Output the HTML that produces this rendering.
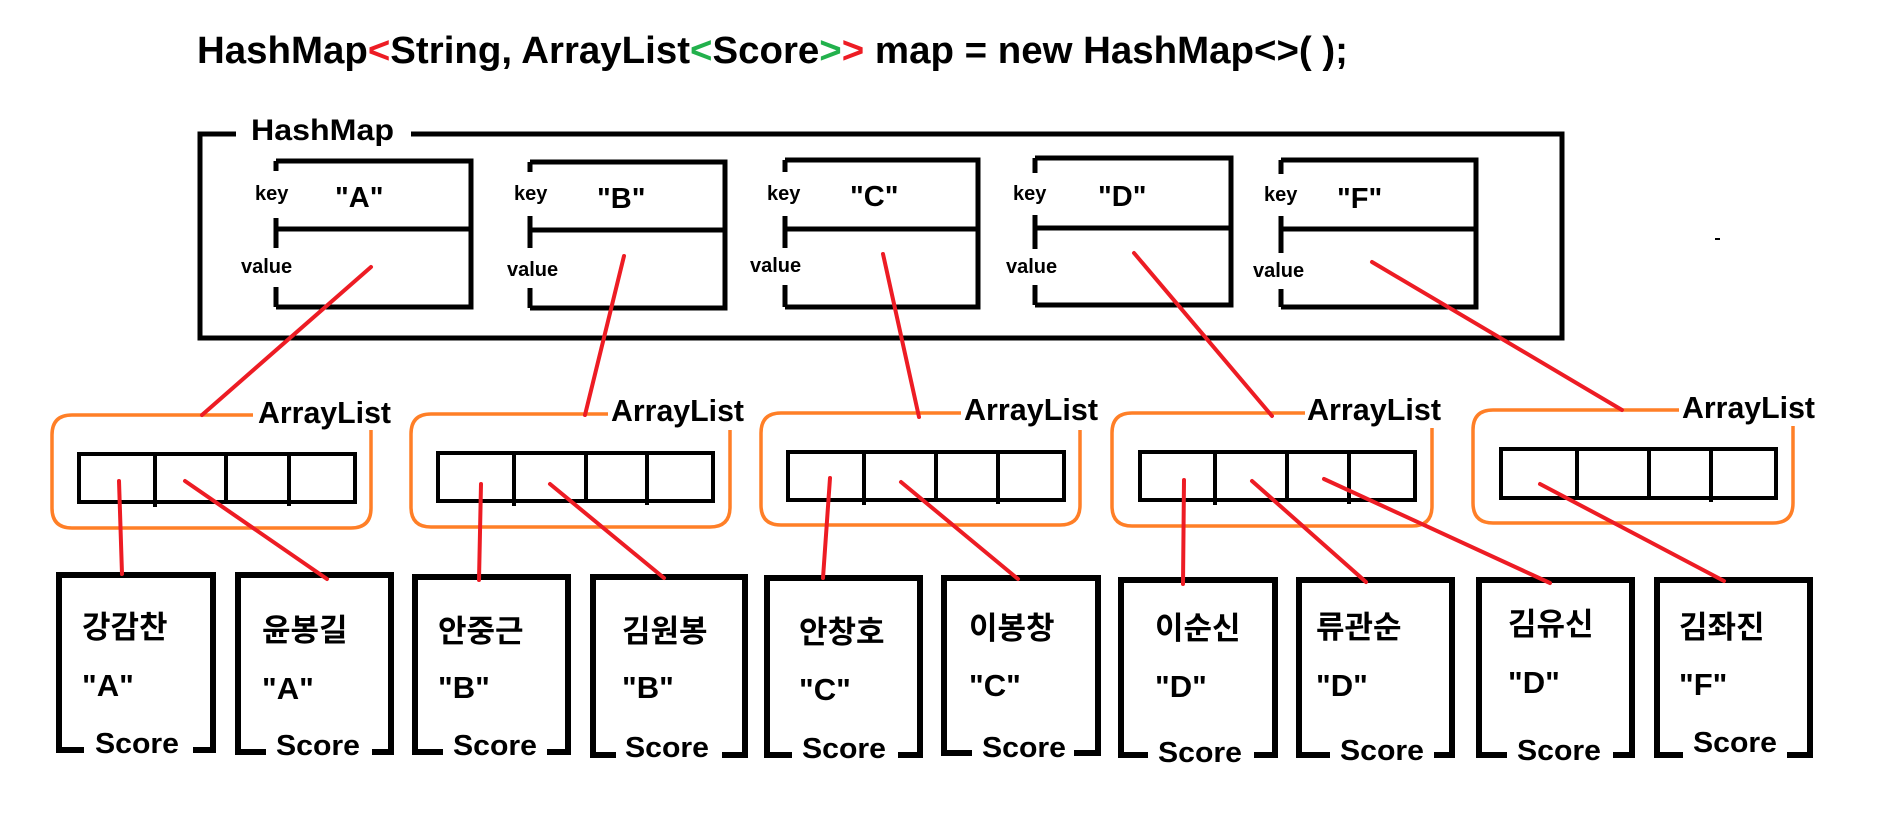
<!DOCTYPE html>
<html><head><meta charset="utf-8"><style>
html,body{margin:0;padding:0;background:#fff;}
svg{display:block;}
text{font-family:"Liberation Sans","Noto Sans CJK KR",sans-serif;font-weight:bold;fill:#000;}
</style></head><body>
<svg width="1898" height="840" viewBox="0 0 1898 840" xmlns="http://www.w3.org/2000/svg">
<!-- Title -->
<text x="197" y="63" font-size="38" textLength="1151" lengthAdjust="spacingAndGlyphs">HashMap<tspan fill="#ed1c24">&lt;</tspan>String, ArrayList<tspan fill="#22b14c">&lt;</tspan>Score<tspan fill="#22b14c">&gt;</tspan><tspan fill="#ed1c24">&gt;</tspan> map = new HashMap&lt;&gt;( );</text>

<!-- HashMap outer box -->
<g stroke="#000" stroke-width="5" fill="none">
<polyline points="236,134 200,134 200,338 1562,338 1562,134 411,134"/>
</g>
<text x="251" y="140" font-size="30" textLength="143" lengthAdjust="spacingAndGlyphs">HashMap</text>
<rect x="1715" y="238" width="5" height="2" fill="#000"/>

<!-- Entries -->
<g stroke="#000" stroke-width="5" fill="none">
<polyline points="276,161 471,161 471,307 276,307"/><line x1="276" y1="229" x2="471" y2="229"/>
<line x1="276" y1="161" x2="276" y2="171"/><line x1="276" y1="218" x2="276" y2="248"/><line x1="276" y1="287" x2="276" y2="307"/>
<polyline points="530,162 725,162 725,308 530,308"/><line x1="530" y1="230" x2="725" y2="230"/>
<line x1="530" y1="162" x2="530" y2="172"/><line x1="530" y1="216" x2="530" y2="248"/><line x1="530" y1="288" x2="530" y2="308"/>
<polyline points="785,160 978,160 978,307 785,307"/><line x1="785" y1="229" x2="978" y2="229"/>
<line x1="785" y1="160" x2="785" y2="172"/><line x1="785" y1="216" x2="785" y2="248"/><line x1="785" y1="285" x2="785" y2="307"/>
<polyline points="1035,158 1231,158 1231,305 1035,305"/><line x1="1035" y1="228" x2="1231" y2="228"/>
<line x1="1035" y1="158" x2="1035" y2="173"/><line x1="1035" y1="215" x2="1035" y2="249"/><line x1="1035" y1="285" x2="1035" y2="305"/>
<polyline points="1281,160 1476,160 1476,307 1281,307"/><line x1="1281" y1="229" x2="1476" y2="229"/>
<line x1="1281" y1="160" x2="1281" y2="174"/><line x1="1281" y1="216" x2="1281" y2="253"/><line x1="1281" y1="289" x2="1281" y2="307"/>
</g>
<g font-size="20">
<text x="255" y="200">key</text><text x="241" y="273">value</text>
<text x="514" y="200">key</text><text x="507" y="276">value</text>
<text x="767" y="200">key</text><text x="750" y="272">value</text>
<text x="1013" y="200">key</text><text x="1006" y="273">value</text>
<text x="1264" y="201">key</text><text x="1253" y="277">value</text>
</g>
<g font-size="29">
<text x="335" y="207">"A"</text><text x="597" y="208">"B"</text><text x="850" y="206">"C"</text><text x="1098" y="206">"D"</text><text x="1337" y="208">"F"</text>
</g>

<!-- ArrayLists (orange) -->
<g stroke="#ff7f27" stroke-width="3.5" fill="none">
<path d="M253,415 H72 Q52,415 52,435 V508 Q52,528 72,528 H351 Q371,528 371,508 V430"/>
<path d="M608,414 H431 Q411,414 411,434 V507 Q411,527 431,527 H710 Q730,527 730,507 V430"/>
<path d="M961,413 H781 Q761,413 761,433 V505 Q761,525 781,525 H1060 Q1080,525 1080,505 V430"/>
<path d="M1305,413 H1132 Q1112,413 1112,433 V506 Q1112,526 1132,526 H1412 Q1432,526 1432,506 V428"/>
<path d="M1679,410 H1493 Q1473,410 1473,430 V503 Q1473,523 1493,523 H1773 Q1793,523 1793,503 V426"/>
</g>
<g font-size="31">
<text x="258" y="423" textLength="133" lengthAdjust="spacingAndGlyphs">ArrayList</text>
<text x="611" y="421" textLength="133" lengthAdjust="spacingAndGlyphs">ArrayList</text>
<text x="964" y="420" textLength="134" lengthAdjust="spacingAndGlyphs">ArrayList</text>
<text x="1307" y="420" textLength="134" lengthAdjust="spacingAndGlyphs">ArrayList</text>
<text x="1682" y="418" textLength="133" lengthAdjust="spacingAndGlyphs">ArrayList</text>
</g>

<!-- arrays -->
<g stroke="#000" stroke-width="4" fill="none">
<rect x="79" y="454" width="276" height="48"/><line x1="155" y1="454" x2="155" y2="507"/><line x1="226" y1="454" x2="226" y2="502"/><line x1="289" y1="454" x2="289" y2="506"/>
<rect x="438" y="453" width="275" height="48"/><line x1="514" y1="453" x2="514" y2="506"/><line x1="586" y1="453" x2="586" y2="501"/><line x1="647" y1="453" x2="647" y2="505"/>
<rect x="788" y="452" width="276" height="48"/><line x1="864" y1="452" x2="864" y2="505"/><line x1="936" y1="452" x2="936" y2="500"/><line x1="998" y1="452" x2="998" y2="504"/>
<rect x="1140" y="452" width="275" height="48"/><line x1="1215" y1="452" x2="1215" y2="505"/><line x1="1287" y1="452" x2="1287" y2="500"/><line x1="1349" y1="452" x2="1349" y2="504"/>
<rect x="1501" y="449" width="275" height="49"/><line x1="1577" y1="449" x2="1577" y2="498"/><line x1="1649" y1="449" x2="1649" y2="498"/><line x1="1711" y1="449" x2="1711" y2="502"/>
</g>

<!-- Score boxes -->
<g stroke="#000" stroke-width="6" fill="none">
<rect x="59" y="575" width="154" height="175"/>
<rect x="238" y="575" width="153" height="177"/>
<rect x="415" y="577" width="153" height="175"/>
<rect x="593" y="577" width="152" height="178"/>
<rect x="767" y="578" width="153" height="177"/>
<rect x="944" y="578" width="154" height="175"/>
<rect x="1121" y="580" width="154" height="175"/>
<rect x="1299" y="580" width="153" height="175"/>
<rect x="1479" y="580" width="153" height="175"/>
<rect x="1657" y="580" width="153" height="175"/>
</g>
<g fill="#fff">
<rect x="84" y="740" width="109" height="20"/>
<rect x="266" y="740" width="106" height="20"/>
<rect x="443" y="740" width="104" height="20"/>
<rect x="616" y="742" width="106" height="20"/>
<rect x="792" y="742" width="106" height="20"/>
<rect x="972" y="740" width="102" height="20"/>
<rect x="1148" y="742" width="106" height="20"/>
<rect x="1330" y="742" width="104" height="20"/>
<rect x="1507" y="742" width="106" height="20"/>
<rect x="1683" y="740" width="104" height="20"/>
</g>
<g font-size="31">
<text x="82" y="638">강감찬</text><text x="82" y="696">"A"</text>
<text x="262" y="641">윤봉길</text><text x="262" y="699">"A"</text>
<text x="438" y="642">안중근</text><text x="438" y="698">"B"</text>
<text x="622" y="642">김원봉</text><text x="622" y="698">"B"</text>
<text x="799" y="643">안창호</text><text x="799" y="700">"C"</text>
<text x="969" y="639">이봉창</text><text x="969" y="696">"C"</text>
<text x="1155" y="639">이순신</text><text x="1155" y="697">"D"</text>
<text x="1316" y="638">류관순</text><text x="1316" y="696">"D"</text>
<text x="1508" y="635">김유신</text><text x="1508" y="693">"D"</text>
<text x="1679" y="638">김좌진</text><text x="1679" y="695">"F"</text>
</g>
<g font-size="29">
<text x="95" y="753" textLength="84" lengthAdjust="spacingAndGlyphs">Score</text>
<text x="276" y="755" textLength="84" lengthAdjust="spacingAndGlyphs">Score</text>
<text x="453" y="755" textLength="84" lengthAdjust="spacingAndGlyphs">Score</text>
<text x="625" y="757" textLength="84" lengthAdjust="spacingAndGlyphs">Score</text>
<text x="802" y="758" textLength="84" lengthAdjust="spacingAndGlyphs">Score</text>
<text x="982" y="757" textLength="84" lengthAdjust="spacingAndGlyphs">Score</text>
<text x="1158" y="762" textLength="84" lengthAdjust="spacingAndGlyphs">Score</text>
<text x="1340" y="760" textLength="84" lengthAdjust="spacingAndGlyphs">Score</text>
<text x="1517" y="760" textLength="84" lengthAdjust="spacingAndGlyphs">Score</text>
<text x="1693" y="752" textLength="84" lengthAdjust="spacingAndGlyphs">Score</text>
</g>

<!-- red connectors -->
<g stroke="#ed1c24" stroke-width="4" stroke-linecap="round">
<line x1="371" y1="267" x2="202" y2="415"/>
<line x1="624" y1="256" x2="585" y2="415"/>
<line x1="883" y1="254" x2="919" y2="417"/>
<line x1="1134" y1="253" x2="1272" y2="416"/>
<line x1="1372" y1="262" x2="1622" y2="410"/>
<line x1="119" y1="481" x2="122" y2="574"/>
<line x1="185" y1="481" x2="327" y2="579"/>
<line x1="481" y1="484" x2="479" y2="580"/>
<line x1="550" y1="484" x2="664" y2="578"/>
<line x1="830" y1="478" x2="823" y2="578"/>
<line x1="901" y1="482" x2="1018" y2="579"/>
<line x1="1184" y1="480" x2="1183" y2="584"/>
<line x1="1252" y1="481" x2="1366" y2="582"/>
<line x1="1324" y1="479" x2="1550" y2="583"/>
<line x1="1540" y1="484" x2="1724" y2="581"/>
</g>
</svg>
</body></html>
